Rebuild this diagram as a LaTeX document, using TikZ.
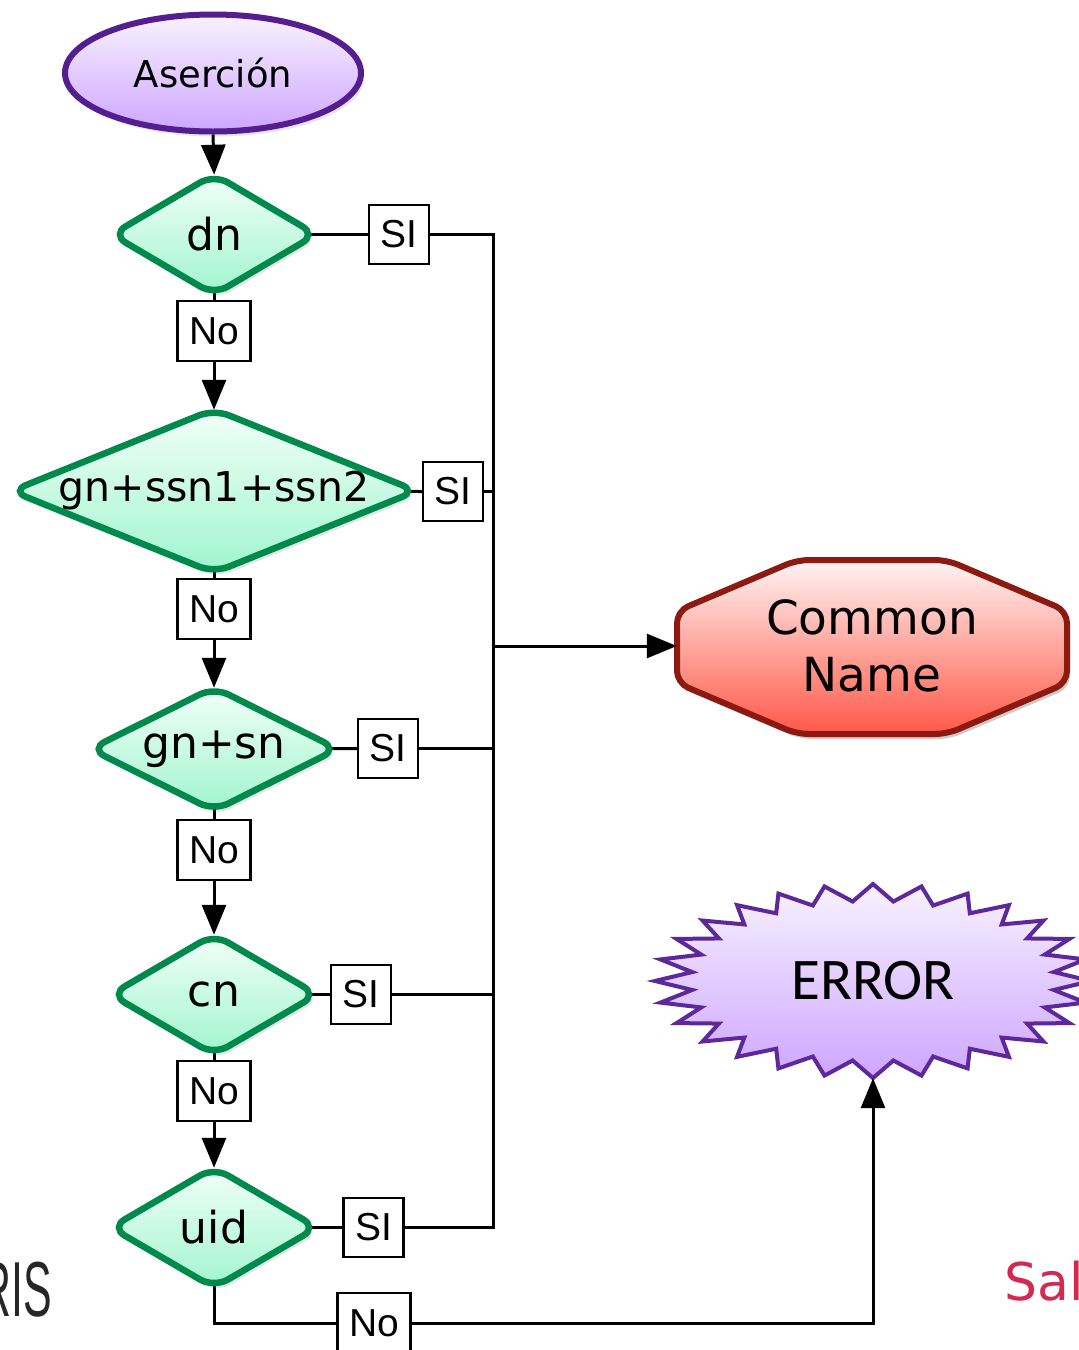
\documentclass[tikz,border=0pt]{standalone}
\usepackage{fontspec}
\setmainfont{DejaVu Sans}
\newfontfamily\labfont{Liberation Sans}
\newfontfamily\errfont{Carlito}
\usetikzlibrary{shapes.geometric,arrows.meta,shadows}
\pgfdeclarelayer{bg}
\pgfsetlayers{bg,main}
\definecolor{purpS}{RGB}{84,30,145}
\definecolor{purpT}{RGB}{248,242,255}
\definecolor{purpB}{RGB}{206,166,255}
\definecolor{greenS}{RGB}{0,137,76}
\definecolor{greenT}{RGB}{242,255,249}
\definecolor{greenB}{RGB}{160,245,205}
\definecolor{redS}{RGB}{140,26,16}
\definecolor{redT}{RGB}{255,244,244}
\definecolor{redB}{RGB}{255,88,72}
\definecolor{errS}{RGB}{92,40,156}
\definecolor{salred}{RGB}{212,40,78}
\begin{document}
\begin{tikzpicture}[x=1pt,y=-1pt,
  conn/.style={line width=3pt, draw=black},
  arr/.style={conn, -{Triangle[length=30pt,width=24pt]}},
  darr/.style={arr, shorten >=-5pt},
  shd/.style={drop shadow={opacity=0.2, shadow xshift=3pt, shadow yshift=-5pt}},
  dec/.style={diamond, draw=greenS, line width=6.5pt, top color=greenT, bottom color=greenB, rounded corners=16pt, inner sep=0pt, shd},
  dtext/.style={font=\fontsize{44}{48}\selectfont},
  lbl/.style={draw, line width=2.5pt, fill=white, inner sep=0pt, font=\labfont\fontsize{39}{40}\selectfont},
  sibox/.style={lbl, minimum width=60pt, minimum height=59pt},
  nobox/.style={lbl, minimum width=73pt, minimum height=60pt},
]
\useasboundingbox (0,0) rectangle (1079,1350);

% start ellipse
\node[ellipse, draw=purpS, line width=6pt, top color=purpT, bottom color=purpB,
      minimum width=296pt, minimum height=117pt, inner sep=0pt, shd,
      font=\fontsize{37}{40}\selectfont] (ase) at (213,73) {Aserción};

% decisions
\node[dec, minimum width=207pt, minimum height=123pt, label={[dtext]center:dn}] (dn) at (214,234.5) {};
\node[dec, minimum width=408pt, minimum height=166pt, label={[font=\fontsize{41}{44}\selectfont]center:gn+ssn1+ssn2}] (g3) at (214,491) {};
\node[dec, minimum width=250pt, minimum height=126pt, label={[dtext]center:gn+sn}] (gs) at (214,749) {};
\node[dec, minimum width=209pt, minimum height=123pt, label={[dtext]center:cn}] (cnd) at (214,994.5) {};
\node[dec, minimum width=209pt, minimum height=123pt, label={[dtext]center:uid}] (uid) at (214,1227.5) {};

% label boxes
\node[sibox] (siD) at (399,234.5) {SI};
\node[sibox] (siG) at (453,491.5) {SI};
\node[sibox] (siS) at (388,748.5) {SI};
\node[sibox] (siC) at (361,994.5) {SI};
\node[sibox] (siU) at (373.5,1227.5) {SI};
\node[nobox] (noD) at (214,331) {No};
\node[nobox] (noG) at (214,609) {No};
\node[nobox] (noS) at (214,850) {No};
\node[nobox] (noC) at (214,1091) {No};
\node[nobox] (noU) at (374,1323) {No};

% Common Name octagon
\path[fill=black, opacity=0.2, rounded corners=12pt, shift={(875,652)}]
  (-75,-87) -- (75,-87) -- (195,-36) -- (195,36) -- (75,87) -- (-75,87) -- (-195,36) -- (-195,-36) -- cycle;
\path[draw=redS, line width=6pt, top color=redT, bottom color=redB, rounded corners=12pt, shift={(872,647)}]
  (-75,-87) -- (75,-87) -- (195,-36) -- (195,36) -- (75,87) -- (-75,87) -- (-195,36) -- (-195,-36) -- cycle;
\node[minimum width=390pt, minimum height=174pt, inner sep=0pt, align=center,
      font=\fontsize{47}{57}\selectfont] (cname) at (872,646) {Common\\Name};

% ERROR starburst points
\foreach \i in {0,...,55} {
  \pgfmathsetmacro\sbrx{218-36*mod(\i,2)}
  \pgfmathsetmacro\sbry{97-17*mod(\i,2)}
  \pgfmathsetmacro\sbang{\i*6.4285714}
  \pgfmathsetmacro\sbx{873+\sbrx*cos(\sbang)}
  \pgfmathsetmacro\sby{981+\sbry*sin(\sbang)}
  \coordinate (sb\i) at (\sbx,\sby);
}
\path[fill=black, opacity=0.2, shift={(3,5)}]
  (sb0) \foreach \i in {1,...,55} { -- (sb\i) } -- cycle;
\path[draw=errS, line width=4pt, line join=miter, top color=purpT, bottom color=purpB]
  (sb0) \foreach \i in {1,...,55} { -- (sb\i) } -- cycle;
\node[ellipse, minimum width=436pt, minimum height=194pt, inner sep=0pt,
      font=\errfont\fontsize{59}{62}\selectfont] (err) at (873,981) {ERROR};

% connectors hidden partly behind shapes
\begin{pgfonlayer}{bg}
\draw[conn] (dn.center) -- (noD.north);
\draw[conn] (g3.center) -- (noG.north);
\draw[conn] (gs.center) -- (noS.north);
\draw[conn] (cnd.center) -- (noC.north);
\draw[conn] (dn.center) -- (siD.west);
\draw[conn] (g3.center) -- (siG.west);
\draw[conn] (gs.center) -- (siS.west);
\draw[conn] (cnd.center) -- (siC.west);
\draw[conn] (uid.center) -- (siU.west);
\draw[conn] (uid.center) |- (noU.west);
\end{pgfonlayer}

% arrows
\draw[darr] (ase.south) -- (dn.north);
\draw[darr] (noD.south) -- (g3.north);
\draw[darr] (noG.south) -- (gs.north);
\draw[darr] (noS.south) -- (cnd.north);
\draw[darr] (noC.south) -- (uid.north);

\coordinate (busx) at (493,0);
\draw[conn] (siD.east) -| (busx |- siU.east) -- (siU.east);
\draw[conn] (siG.east) -- (busx |- siG.east);
\draw[conn] (siS.east) -- (busx |- siS.east);
\draw[conn] (siC.east) -- (busx |- siC.east);
\draw[arr] (busx |- cname.west) -- (cname.west);

\draw[arr] (noU.east) -| (err.south);

% cut-off background texts
\node[anchor=base east, inner sep=0pt, text=black!85] (ris) at (52,1316)
  {\scalebox{0.55}[1]{\labfont\fontsize{78}{80}\selectfont RIS}};
\node[anchor=base west, inner sep=0pt, text=salred, font=\fontsize{52}{60}\selectfont] (sal) at (1004,1300) {Sal};
\end{tikzpicture}
\end{document}
